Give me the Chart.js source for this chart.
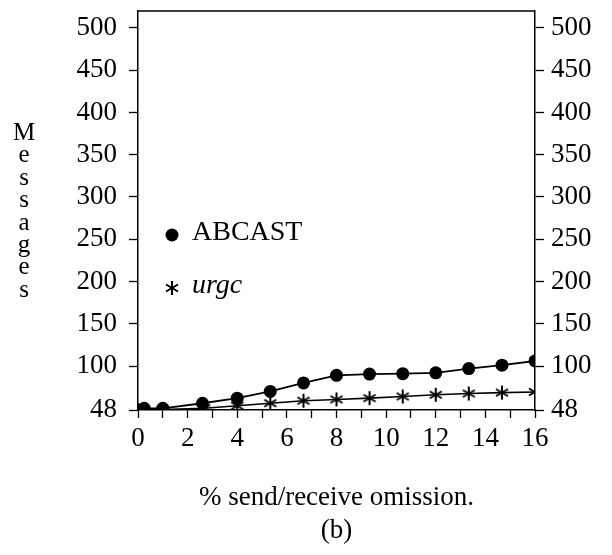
<!DOCTYPE html>
<html>
<head>
<meta charset="utf-8">
<script src="https://cdn.jsdelivr.net/npm/chart.js@4.4.1/dist/chart.umd.min.js"></script>
<style>
    html, body { margin: 0; padding: 0; background: #fff; }
</style>
</head>
<body>
<canvas id="chart" width="612" height="555"></canvas>
<script>
"use strict";

// data
const abcastX = [0, 0.25, 1, 2.6, 4, 5.33, 6.67, 8, 9.33, 10.67, 12, 13.33, 14.67, 16];
const abcastY = [48, 50, 50, 56, 62, 70, 80, 89, 90.5, 91, 92, 97, 101, 106];
const urgcX = [0, 1, 2.67, 4, 5.33, 6.67, 8, 9.33, 10.67, 12, 13.33, 14.67, 16];
const urgcY = [48, 48.5, 50, 53, 56, 59, 60.5, 62, 64, 66, 67.5, 68.6, 69.3];
const yTicks = [48, 100, 150, 200, 250, 300, 350, 400, 450, 500];
const xLabelTicks = [0, 2, 4, 6, 8, 10, 12, 14, 16];
const yTitle = "Messages";
const xTitle = ["% send/receive omission.", "(b)"];

const serif = '"Liberation Serif", "DejaVu Serif", serif';

// six armed asterisk like the TeX \ast
function makeStar(r, lw) {
    const size = 2 * Math.ceil(r + lw);
    const c = document.createElement("canvas");
    c.width = size; c.height = size;
    const g = c.getContext("2d");
    g.strokeStyle = "#000";
    g.lineWidth = lw;
    g.lineCap = "butt";
    const m = size / 2;
    [90, 30, 150].forEach(deg => {
        const a = deg * Math.PI / 180;
        g.beginPath();
        g.moveTo(m - r * Math.cos(a), m - r * Math.sin(a));
        g.lineTo(m + r * Math.cos(a), m + r * Math.sin(a));
        g.stroke();
    });
    return c;
}
const starImg = makeStar(7, 2);

const toPoints = (xs, ys) => xs.map((x, i) => ({ x: x, y: ys[i] }));

// keep the chart area where the frame sits in the figure
const noPad = s => { s.paddingTop = 0; s.paddingBottom = 0; s.paddingLeft = 0; s.paddingRight = 0; };

const decorPlugin = {
    id: "decor",
    afterDraw(chart) {
        const { ctx, chartArea: a } = chart;
        ctx.save();
        // top edge of the frame
        ctx.strokeStyle = "#000";
        ctx.lineWidth = 1.5;
        ctx.beginPath();
        ctx.moveTo(a.left, a.top);
        ctx.lineTo(a.right, a.top);
        ctx.stroke();

        // legend inside the plot
        ctx.fillStyle = "#000";
        ctx.beginPath();
        ctx.arc(a.left + 34, 235, 6.5, 0, Math.PI * 2);
        ctx.fill();
        ctx.font = "28px " + serif;
        ctx.textAlign = "left";
        ctx.textBaseline = "alphabetic";
        ctx.fillText("ABCAST", a.left + 54, 240);
        ctx.drawImage(starImg, Math.round(a.left + 34 - starImg.width / 2), Math.round(288 - starImg.height / 2));
        ctx.font = "italic 28px " + serif;
        ctx.fillText("urgc", a.left + 54, 293);

        // stacked y title
        ctx.font = "25px " + serif;
        ctx.textAlign = "center";
        yTitle.split("").forEach((ch, i) => ctx.fillText(ch, 24, 140 + i * 22.4));
        ctx.restore();
    }
};

const tickFont = { family: serif, size: 27 };

new Chart(document.getElementById("chart"), {
    type: "line",
    data: {
        datasets: [
            {
                label: "ABCAST",
                data: toPoints(abcastX, abcastY),
                borderColor: "#000",
                backgroundColor: "#000",
                borderWidth: 1.8,
                pointStyle: "circle",
                pointRadius: 6.5,
                pointBorderWidth: 0,
                tension: 0
            },
            {
                label: "urgc",
                data: toPoints(urgcX, urgcY),
                borderColor: "#000",
                backgroundColor: "#000",
                borderWidth: 1.6,
                pointStyle: starImg,
                tension: 0
            }
        ]
    },
    options: {
        responsive: false,
        animation: false,
        layout: { padding: { top: 11, bottom: 0, left: 0, right: 0 } },
        plugins: { legend: { display: false }, tooltip: { enabled: false } },
        scales: {
            x: {
                type: "linear",
                position: "bottom",
                min: 0,
                max: 16,
                ticks: {
                    stepSize: 1,
                    color: "#000",
                    font: tickFont,
                    padding: 5,
                    maxRotation: 0,
                    autoSkip: false,
                    callback: v => xLabelTicks.includes(v) ? String(v) : ""
                },
                grid: { drawOnChartArea: false, color: "#000", tickLength: 8, tickWidth: 1.3 },
                border: { display: true, color: "#000", width: 1.5 },
                title: {
                    display: true,
                    text: xTitle,
                    color: "#000",
                    font: { family: serif, size: 27, lineHeight: 1.22 },
                    padding: { top: 0, bottom: 8 }
                },
                afterFit: s => { s.height = 145; noPad(s); }
            },
            y: {
                type: "linear",
                position: "left",
                min: 48,
                max: 520,
                afterBuildTicks: s => { s.ticks = yTicks.map(v => ({ value: v })); },
                ticks: { color: "#000", font: tickFont, padding: 12 },
                grid: { drawOnChartArea: false, color: "#000", tickLength: 9, tickWidth: 1.3 },
                border: { display: true, color: "#000", width: 1.5 },
                afterFit: s => { s.width = 138; noPad(s); }
            },
            y2: {
                type: "linear",
                position: "right",
                min: 48,
                max: 520,
                afterBuildTicks: s => { s.ticks = yTicks.map(v => ({ value: v })); },
                ticks: { color: "#000", font: tickFont, padding: 7 },
                grid: { drawOnChartArea: false, color: "#000", tickLength: 9, tickWidth: 1.3 },
                border: { display: true, color: "#000", width: 1.5 },
                afterFit: s => { s.width = 77; noPad(s); }
            }
        }
    },
    plugins: [decorPlugin]
});
</script>
</body>
</html>
